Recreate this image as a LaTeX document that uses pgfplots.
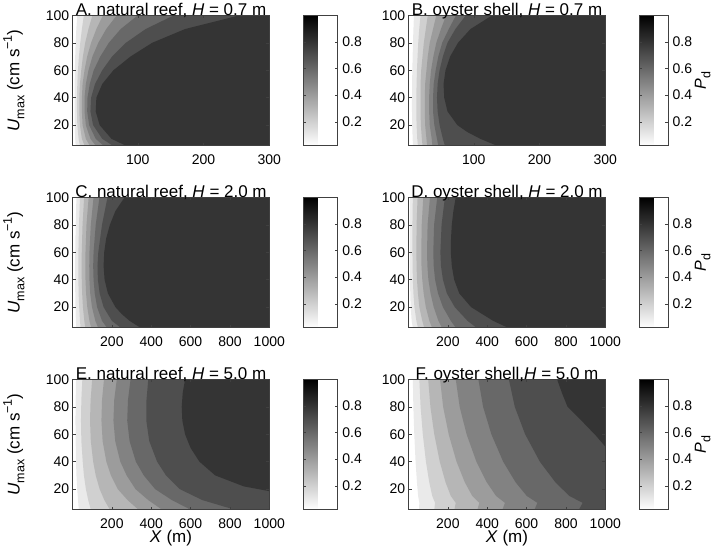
\documentclass[border=0pt]{standalone}
\usepackage{fontspec}
\setmainfont{Liberation Sans}
\usepackage{pgfplots}
\pgfplotsset{compat=1.18}

\newcommand\fs{\fontsize{14}{17}\selectfont}
\newcommand\fl{\fontsize{17}{20}\selectfont}
\newcommand\ft{\fontsize{17}{20}\selectfont}
\newcommand\lo[1]{\raisebox{-0.28em}{\fontsize{12.5}{12.5}\selectfont #1}}
\newcommand\hi[1]{\raisebox{0.45em}{\fontsize{12.5}{12.5}\selectfont #1}}

% fill colours of the contour bands (level 0.1 ... 0.8)
\definecolor{l1}{gray}{0.918}
\definecolor{l2}{gray}{0.816}
\definecolor{l3}{gray}{0.714}
\definecolor{l4}{gray}{0.612}
\definecolor{l5}{gray}{0.510}
\definecolor{l6}{gray}{0.408}
\definecolor{l7}{gray}{0.306}
\definecolor{l8}{gray}{0.204}
\definecolor{frame}{gray}{0.25}

\pgfplotsset{
  /pgf/number format/assume math mode=true,
  /pgf/number format/1000 sep={},
  cf/.style={draw=none, fill=#1, mark=none, forget plot},
  cbase/.style={
    at={(parent axis.north east)}, anchor=north west,
    scale only axis, height=130.4pt,
    ytick={0.2,0.4,0.6,0.8}, xtick=\empty,
    tick align=inside, major tick length=2.5pt,
    ytick pos=both, yticklabel pos=right,
    tick label style={font=\fs},
    yticklabel style={xshift=1.3pt},
    axis line style={frame, line width=0.6pt},
    every tick/.style={frame, line width=0.5pt},
  },
  panel/.style={
    scale only axis, width=196.6pt, height=130.4pt,
    xmin=1, ymin=5, ymax=100,
    ytick={20,40,60,80,100},
    axis on top, tick align=inside, major tick length=3pt,
    xtick pos=both, ytick pos=both,
    xticklabel pos=lower, yticklabel pos=left,
    axis line style={frame, line width=0.6pt},
    every tick/.style={frame, line width=0.5pt},
    scaled ticks=false,
    tick label style={font=\fs},
    xticklabel style={yshift=-5.5pt},
    every axis title shift=0pt,
    title style={font=\ft, at={(axis description cs:0.5,1)}, anchor=base, yshift=0.3pt},
    colorbar,
    colormap={bw}{gray(0cm)=(1); gray(1cm)=(0)},
    point meta min=0.02, point meta max=1,
  },
  leftcol/.style={
    panel,
    ylabel={\textit{U}\lo{max} (cm s\hi{−1})},
    every axis y label/.style={font=\fl, at={(axis description cs:-0.2706,0.5)}, rotate=90, anchor=base},
    colorbar style={cbase, width=34pt, xshift=25.7pt},
  },
  rightcol/.style={
    panel,
    colorbar style={cbase, width=28.6pt, xshift=25.4pt,
      ylabel={\textit{P}\lo{d}},
      every axis y label/.style={font=\fontsize{16}{19}\selectfont, at={(axis description cs:2.33,0.5)}, rotate=90, anchor=base}},
  },
  short/.style={xmax=300, xtick={100,200,300}},
  long/.style={xmax=1000, xtick={200,400,600,800,1000}},
  bottomrow/.style={
    xlabel={\textit{X} (m)},
    every axis x label/.style={font=\fl, at={(axis description cs:0.5,-0.2515)}, anchor=base},
  },
}

\begin{document}
\begin{tikzpicture}[font=\fs]
\useasboundingbox (0,0) rectangle (717pt,555pt);

% ---------------- A ----------------
\begin{axis}[leftcol, short, at={(72.7pt,409.3pt)}, anchor=south west,
  title={A. natural reef, \textit{H} = 0.7 m}]
\addplot[cf=l1] coordinates {(8,100) (6.5,90) (5.5,80) (4.8,70) (4.3,60) (4.0,50) (3.8,40) (3.8,30) (4.0,20) (4.8,10) (5.5,5) (300,5) (300,100)} --cycle;
\addplot[cf=l2] coordinates {(18,100) (15,90) (12.5,80) (10.5,70) (9,60) (8,50) (7.5,40) (7.5,30) (8,20) (10,10) (12,5) (300,5) (300,100)} --cycle;
\addplot[cf=l3] coordinates {(31,100) (25,90) (20,80) (16.5,70) (14,60) (12,50) (11,40) (11,30) (12,20) (15,10) (19,5) (300,5) (300,100)} --cycle;
\addplot[cf=l4] coordinates {(47,100) (37,90) (29,80) (23,70) (19,60) (16,50) (15,40) (15,30) (16,20) (21,10) (27,5) (300,5) (300,100)} --cycle;
\addplot[cf=l5] coordinates {(68,100) (52,90) (40,80) (31,70) (25,60) (21,50) (19,40) (19,30) (21,20) (28,10) (36,5) (300,5) (300,100)} --cycle;
\addplot[cf=l6] coordinates {(100,100) (74,90) (56,80) (43,70) (33,60) (27,50) (23.5,40) (23,30) (26,20) (36,10) (48,5) (300,5) (300,100)} --cycle;
\addplot[cf=l7] coordinates {(155,100) (112,90) (82,80) (61,70) (46,60) (35,50) (29,40) (28,30) (32,20) (46,10) (62,5) (300,5) (300,100)} --cycle;
\addplot[cf=l8] coordinates {(255,100) (172,90) (122,80) (89,70) (63,60) (46,50) (37,40) (36,30) (42,20) (60,10) (82,5) (300,5) (300,100)} --cycle;
\end{axis}

% ---------------- B ----------------
\begin{axis}[rightcol, short, at={(408.7pt,409.3pt)}, anchor=south west,
  title={B. oyster shell, \textit{H} = 0.7 m}]
\addplot[cf=l1] coordinates {(9,100) (8.2,90) (7.5,80) (7,70) (6.5,60) (6.2,50) (6,40) (6,30) (6.3,20) (7,10) (7.5,5) (300,5) (300,100)} --cycle;
\addplot[cf=l2] coordinates {(19,100) (17,90) (15.5,80) (14.5,70) (13.5,60) (13,50) (12.5,40) (12.5,30) (13,20) (14,10) (15,5) (300,5) (300,100)} --cycle;
\addplot[cf=l3] coordinates {(30,100) (27,90) (24,80) (22,70) (20,60) (19,50) (19,40) (19,30) (19.5,20) (21,10) (22,5) (300,5) (300,100)} --cycle;
\addplot[cf=l4] coordinates {(43,100) (38,90) (33,80) (30,70) (28,60) (26,50) (25.5,40) (25.5,30) (26,20) (28,10) (29,5) (300,5) (300,100)} --cycle;
\addplot[cf=l5] coordinates {(58,100) (50,90) (43,80) (38.5,70) (35,60) (33,50) (32,40) (32,30) (33,20) (36,10) (37,5) (300,5) (300,100)} --cycle;
\addplot[cf=l6] coordinates {(73,100) (62,90) (52,80) (46,70) (42,60) (39,50) (38,40) (38,30) (40,20) (44,10) (46,5) (300,5) (300,100)} --cycle;
\addplot[cf=l7] coordinates {(88,100) (72,90) (60,80) (53,70) (48,60) (45,50) (44,40) (45,30) (48,20) (53,10) (56,5) (300,5) (300,100)} --cycle;
\addplot[cf=l8] coordinates {(128,100) (95,90) (76,80) (64,70) (57,60) (54,50) (55,40) (60,30) (75,20) (90,15) (110,10) (135,5) (300,5) (300,100)} --cycle;
\end{axis}

% ---------------- C ----------------
\begin{axis}[leftcol, long, at={(72.7pt,227.3pt)}, anchor=south west,
  title={C. natural reef, \textit{H} = 2.0 m}]
\addplot[cf=l1] coordinates {(20,100) (16,80) (14,60) (13.5,50) (13.5,40) (14,30) (15,20) (17,10) (19,5) (1000,5) (1000,100)} --cycle;
\addplot[cf=l2] coordinates {(38,100) (33,80) (30,60) (30,50) (30,40) (31,30) (34,20) (38,10) (41,5) (1000,5) (1000,100)} --cycle;
\addplot[cf=l3] coordinates {(59,100) (51,80) (47,60) (46.5,50) (47,40) (49,30) (53,20) (60,10) (65,5) (1000,5) (1000,100)} --cycle;
\addplot[cf=l4] coordinates {(82,100) (71,80) (66,60) (65,50) (66,40) (69,30) (75,20) (86,10) (95,5) (1000,5) (1000,100)} --cycle;
\addplot[cf=l5] coordinates {(107,100) (93,80) (86,60) (85,50) (86,40) (90,30) (99,20) (116,10) (130,5) (1000,5) (1000,100)} --cycle;
\addplot[cf=l6] coordinates {(137,100) (118,80) (107,60) (105,50) (107,40) (113,30) (125,20) (150,10) (175,5) (1000,5) (1000,100)} --cycle;
\addplot[cf=l7] coordinates {(178,100) (150,80) (131,60) (127,50) (129,40) (138,30) (158,20) (200,10) (245,5) (1000,5) (1000,100)} --cycle;
\addplot[cf=l8] coordinates {(265,100) (218,90) (190,80) (171,70) (161,60) (158,50) (163,40) (180,30) (218,20) (250,15) (290,10) (345,5) (1000,5) (1000,100)} --cycle;
\end{axis}

% ---------------- D ----------------
\begin{axis}[rightcol, long, at={(408.7pt,227.3pt)}, anchor=south west,
  title={D. oyster shell, \textit{H} = 2.0 m}]
\addplot[cf=l1] coordinates {(8,100) (7,80) (7,60) (7.5,50) (8,40) (9,30) (11,20) (16,10) (22,5) (1000,5) (1000,100)} --cycle;
\addplot[cf=l2] coordinates {(22,100) (20,80) (20,60) (21,50) (22,40) (25,30) (30,20) (40,10) (48,5) (1000,5) (1000,100)} --cycle;
\addplot[cf=l3] coordinates {(46,100) (41,80) (40,60) (41,50) (43,40) (48,30) (55,20) (70,10) (80,5) (1000,5) (1000,100)} --cycle;
\addplot[cf=l4] coordinates {(75,100) (67,80) (65,60) (66,50) (70,40) (77,30) (88,20) (106,10) (120,5) (1000,5) (1000,100)} --cycle;
\addplot[cf=l5] coordinates {(109,100) (97,80) (94,60) (96,50) (101,40) (112,30) (128,20) (152,10) (170,5) (1000,5) (1000,100)} --cycle;
\addplot[cf=l6] coordinates {(146,100) (130,80) (126,60) (128,50) (135,40) (150,30) (175,20) (215,10) (240,5) (1000,5) (1000,100)} --cycle;
\addplot[cf=l7] coordinates {(185,100) (168,80) (162,60) (165,50) (175,40) (195,30) (235,20) (300,10) (345,5) (1000,5) (1000,100)} --cycle;
\addplot[cf=l8] coordinates {(240,100) (228,90) (220,80) (216,70) (215,60) (220,50) (232,40) (258,30) (318,20) (430,10) (505,5) (1000,5) (1000,100)} --cycle;
\end{axis}

% ---------------- E ----------------
\begin{axis}[leftcol, long, bottomrow, at={(72.7pt,45.3pt)}, anchor=south west,
  title={E. natural reef, \textit{H} = 5.0 m}]
\addplot[cf=l1] coordinates {(18,100) (16,85) (15,70) (16,55) (18,40) (20,30) (24,20) (28,12) (32,5) (1000,5) (1000,100)} --cycle;
\addplot[cf=l2] coordinates {(50,100) (45,85) (43,70) (45,55) (52,40) (58,30) (68,20) (80,12) (93,5) (1000,5) (1000,100)} --cycle;
\addplot[cf=l3] coordinates {(100,100) (92,85) (89,70) (93,55) (105,40) (118,30) (138,20) (162,12) (190,5) (1000,5) (1000,100)} --cycle;
\addplot[cf=l4] coordinates {(160,100) (150,85) (147,70) (153,55) (172,40) (195,30) (230,20) (280,12) (335,5) (1000,5) (1000,100)} --cycle;
\addplot[cf=l5] coordinates {(225,100) (212,85) (208,70) (217,55) (243,40) (275,30) (320,20) (385,12) (455,5) (1000,5) (1000,100)} --cycle;
\addplot[cf=l6] coordinates {(295,100) (282,85) (278,70) (290,55) (322,40) (362,30) (420,20) (505,12) (600,5) (1000,5) (1000,100)} --cycle;
\addplot[cf=l7] coordinates {(385,100) (376,85) (375,70) (390,55) (430,40) (475,30) (545,20) (660,12) (824,5) (1000,5) (1000,100)} --cycle;
\addplot[cf=l8] coordinates {(572,100) (560,90) (555,80) (558,70) (572,60) (600,50) (645,40) (725,30) (870,22) (1000,18.5) (1000,100)} --cycle;
\end{axis}

% ---------------- F ----------------
\begin{axis}[rightcol, long, bottomrow, at={(408.7pt,45.3pt)}, anchor=south west,
  title={F. oyster shell,\textit{H} = 5.0 m}]
\addplot[cf=l1] coordinates {(22,100) (24.6,80) (29.3,60) (35.9,40) (42.8,25) (49,15) (55,10) (53.4,5) (1000,5) (1000,100)} --cycle;
\addplot[cf=l2] coordinates {(55,100) (61.4,80) (72.6,60) (88.6,40) (105.4,25) (120.6,15) (135,10) (131,5) (1000,5) (1000,100)} --cycle;
\addplot[cf=l3] coordinates {(100,100) (111.2,80) (130.8,60) (158.8,40) (188.2,25) (214.8,15) (240,10) (233,5) (1000,5) (1000,100)} --cycle;
\addplot[cf=l4] coordinates {(160,100) (176,80) (204,60) (244,40) (286,25) (324,15) (360,10) (350,5) (1000,5) (1000,100)} --cycle;
\addplot[cf=l5] coordinates {(240,100) (260,80) (295,60) (345,40) (397.5,25) (445,15) (490,10) (477.5,5) (1000,5) (1000,100)} --cycle;
\addplot[cf=l6] coordinates {(355,100) (379,80) (421,60) (481,40) (544,25) (601,15) (655,10) (640,5) (1000,5) (1000,100)} --cycle;
\addplot[cf=l7] coordinates {(510,100) (540,80) (592.5,60) (667.5,40) (746,25) (817.5,15) (885,10) (866,5) (1000,5) (1000,100)} --cycle;
\addplot[cf=l8] coordinates {(755,100) (780,90) (808,80) (885,69) (952,59) (1000,51) (1000,100)} --cycle;
\end{axis}
\end{tikzpicture}
\end{document}
